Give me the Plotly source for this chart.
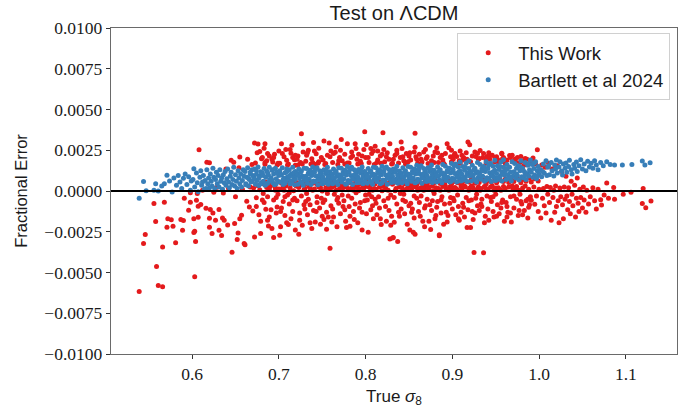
import plotly.graph_objects as go

# ---------------- data ----------------
# fractional error values are stored in units of 1e-3
ERR_UNIT = 1e-3

red_pts = [
    (0.539,-6.16),(0.544,-3.22),(0.546,-2.67),(0.556,-0.77),(0.558,-1.87),(0.559,-4.63),(0.561,-5.79),(0.566,-5.88),
    (0.566,-3.43),(0.568,-0.69),(0.571,-2.22),(0.572,-1.71),(0.576,-1.77),(0.578,-2.16),(0.581,-3.18),(0.587,-1.75),
    (0.589,-2.41),(0.590,-1.81),(0.591,-0.45),(0.596,-1.18),(0.598,-0.69),(0.598,-0.10),(0.602,-1.71),(0.602,-2.55),
    (0.603,-2.47),(0.603,-5.26),(0.604,-3.10),(0.605,-0.57),(0.606,-0.15),(0.607,-0.94),(0.607,-1.61),(0.608,2.53),
    (0.610,-0.83),(0.612,0.05),(0.616,-1.06),(0.617,1.77),(0.620,1.74),(0.620,-1.67),(0.620,-2.22),(0.621,-1.14),
    (0.623,-2.61),(0.624,-1.35),(0.625,-0.08),(0.627,-1.79),(0.628,0.22),(0.631,-1.14),(0.631,-2.41),(0.634,-2.73),
    (0.635,-1.65),(0.636,-0.12),(0.637,-1.80),(0.639,1.35),(0.641,-2.08),(0.642,0.15),(0.645,1.88),(0.646,-3.75),
    (0.648,1.77),(0.649,-2.00),(0.650,-0.35),(0.652,-2.97),(0.653,-2.57),(0.654,1.42),(0.655,2.08),(0.655,-1.70),
    (0.657,-1.49),(0.658,0.10),(0.660,-3.22),(0.661,-3.30),(0.663,-0.63),(0.664,1.95),(0.666,-0.98),(0.667,0.25),
    (0.669,1.62),(0.670,-1.22),(0.672,2.94),(0.672,-2.82),
    (0.671,0.18),(0.673,1.72),(0.674,-0.42),(0.675,2.35),(0.676,2.88),(0.677,-1.45),(0.678,0.08),(0.679,-2.60),
    (0.680,1.98),(0.674,-0.95),(0.678,2.42),(0.676,0.32),(0.679,-1.85),
    (0.681,2.05),(0.682,-0.15),(0.683,2.62),(0.684,1.64),(0.685,-1.12),(0.686,0.22),(0.687,2.30),(0.688,-2.15),
    (0.689,0.10),(0.683,-0.70),(0.686,1.85),(0.689,-1.60),(0.684,2.90),(0.687,-0.35),(0.690,0.28),
    (0.691,0.35),(0.692,-2.30),(0.693,1.78),(0.694,-0.55),(0.695,2.25),(0.696,0.05),(0.697,-1.35),(0.698,1.60),
    (0.699,-0.20),(0.700,2.45),(0.694,-2.85),(0.696,0.20),(0.692,1.95),(0.698,-0.98),(0.700,0.12),
    (0.701,-2.71),(0.702,-2.20),(0.703,2.90),(0.701,1.70),(0.704,0.15),(0.705,-0.65),(0.706,2.10),(0.707,-1.50),
    (0.708,0.30),(0.709,1.88),(0.710,-0.25),(0.703,-1.05),(0.706,0.05),(0.708,2.55),(0.709,-1.95),(0.705,0.25),
    (0.711,1.65),(0.712,-0.80),(0.713,0.18),(0.714,2.32),(0.715,2.80),(0.716,-1.25),(0.717,0.02),(0.718,1.92),
    (0.719,-2.40),(0.720,0.30),(0.712,-0.10),(0.714,-1.70),(0.716,2.05),(0.718,-0.45),(0.719,1.58),
    (0.721,-0.60),(0.722,2.15),(0.723,0.22),(0.724,-1.80),(0.725,1.75),(0.726,3.51),(0.727,-2.10),(0.728,2.90),
    (0.729,0.08),(0.730,-1.10),(0.722,1.60),(0.724,0.35),(0.726,-0.30),(0.728,2.40),(0.730,0.15),(0.723,-2.65),
    (0.731,1.82),(0.732,-0.15),(0.733,-1.45),(0.734,2.50),(0.735,0.28),(0.736,-0.85),(0.737,1.66),(0.738,-2.30),
    (0.739,0.05),(0.740,2.98),(0.732,2.20),(0.734,-0.50),(0.736,0.18),(0.738,1.98),(0.740,-1.20),
    (0.741,0.12),(0.742,-1.90),(0.743,2.28),(0.744,-0.35),(0.745,1.70),(0.746,0.25),(0.747,-1.05),(0.748,-2.04),
    (0.749,2.05),(0.750,0.00),(0.742,1.62),(0.744,-0.70),(0.746,2.62),(0.748,0.20),(0.750,-1.55),
    (0.751,1.90),(0.752,3.06),(0.753,-0.55),(0.754,0.18),(0.755,-1.30),(0.756,2.20),(0.757,0.30),(0.758,2.94),
    (0.759,-3.51),(0.760,-0.90),(0.752,-1.75),(0.754,1.68),(0.756,-0.15),(0.758,0.10),(0.760,2.45),(0.755,-2.35),
    (0.761,0.22),(0.762,1.75),(0.763,-1.60),(0.764,-0.20),(0.765,2.38),(0.766,0.05),(0.767,-2.20),(0.768,1.62),
    (0.769,-0.75),(0.770,2.05),(0.762,-1.10),(0.764,0.30),(0.766,2.70),(0.768,-0.40),(0.770,0.15),
    (0.771,-1.40),(0.772,3.16),(0.773,1.85),(0.774,0.20),(0.775,-0.60),(0.776,2.25),(0.777,-1.85),(0.778,-2.24),
    (0.779,2.90),(0.780,0.08),(0.772,0.35),(0.774,-0.95),(0.776,1.65),(0.778,0.25),(0.780,-0.30),
    (0.781,1.72),(0.782,-2.16),(0.783,0.15),(0.784,-0.45),(0.785,2.15),(0.786,-1.25),(0.787,0.28),(0.788,2.90),
    (0.789,-0.10),(0.790,1.95),(0.782,-1.55),(0.784,2.40),(0.786,0.05),(0.788,-0.80),(0.790,0.22),
    (0.791,-1.95),(0.792,2.25),(0.793,0.12),(0.794,-0.70),(0.795,1.68),(0.796,-1.30),(0.797,0.30),(0.798,2.55),
    (0.799,3.63),(0.800,-0.25),(0.792,0.02),(0.794,1.82),(0.796,-2.40),(0.798,0.18),(0.800,2.05),
    (0.801,2.86),(0.802,-0.55),(0.803,-2.53),(0.804,1.75),(0.805,0.20),(0.806,-1.15),(0.807,2.30),(0.808,0.05),
    (0.809,-1.70),(0.810,1.62),(0.802,0.28),(0.804,-0.20),(0.806,2.60),(0.808,-0.90),(0.810,0.15),
    (0.811,2.74),(0.812,0.10),(0.813,-1.45),(0.814,1.90),(0.815,-0.35),(0.816,0.25),(0.817,2.15),(0.818,-2.05),
    (0.819,0.02),(0.820,3.57),(0.812,-0.75),(0.814,2.45),(0.816,-1.05),(0.818,1.70),(0.820,0.30),
    (0.821,-0.60),(0.822,1.80),(0.823,0.18),(0.824,-1.85),(0.825,2.35),(0.826,0.05),(0.827,-1.20),(0.828,2.90),
    (0.828,-2.94),(0.829,-0.25),(0.830,1.65),(0.822,0.30),(0.824,2.10),(0.826,-0.45),(0.830,-1.55),
    (0.831,-2.88),(0.832,-2.85),(0.833,-1.92),(0.834,2.20),(0.835,0.15),(0.836,-0.80),(0.837,-3.10),(0.838,1.72),
    (0.839,0.25),(0.840,-0.15),(0.832,1.95),(0.834,0.02),(0.836,2.50),(0.838,-1.30),(0.840,2.05),
    (0.841,3.00),(0.842,0.20),(0.843,-0.55),(0.844,1.85),(0.845,-1.40),(0.846,0.08),(0.847,2.30),(0.848,-2.04),
    (0.849,0.28),(0.850,-0.90),(0.842,2.60),(0.844,-0.20),(0.846,1.66),(0.848,0.15),(0.850,2.15),
    (0.851,-2.40),(0.852,1.90),(0.853,0.10),(0.854,-1.10),(0.855,-2.53),(0.856,2.40),(0.857,2.69),(0.857,3.55),
    (0.857,-2.65),(0.858,0.25),(0.859,-0.45),(0.860,1.70),(0.852,-0.75),(0.854,0.30),(0.856,-1.65),(0.858,2.10),
    (0.860,0.05),
    (0.861,-1.25),(0.862,2.25),(0.863,0.18),(0.864,-0.30),(0.865,1.78),(0.866,-1.85),(0.867,0.05),(0.868,-2.20),
    (0.869,2.55),(0.870,0.22),(0.862,-0.70),(0.864,1.95),(0.866,0.28),(0.868,-1.05),(0.870,2.00),
    (0.871,-0.50),(0.872,1.68),(0.873,0.12),(0.874,2.80),(0.875,-2.36),(0.876,-1.20),(0.877,0.30),(0.878,2.15),
    (0.879,-0.15),(0.880,-1.70),(0.872,0.25),(0.874,-0.85),(0.876,1.85),(0.878,0.02),(0.880,2.40),
    (0.881,0.20),(0.882,2.66),(0.883,-0.65),(0.884,1.75),(0.885,-2.75),(0.885,-2.68),(0.886,0.05),(0.887,-1.35),
    (0.888,2.20),(0.889,0.28),(0.890,-2.04),(0.882,-1.00),(0.884,0.15),(0.886,2.05),(0.888,-0.35),(0.890,1.70),
    (0.891,-0.80),(0.892,2.30),(0.893,0.10),(0.894,2.90),(0.895,-1.50),(0.896,2.66),(0.897,0.25),(0.898,-0.40),
    (0.899,1.80),(0.900,-1.10),(0.892,0.30),(0.894,-1.90),(0.896,0.05),(0.898,2.10),(0.900,0.18),
    (0.901,1.95),(0.902,-0.60),(0.903,0.22),(0.904,-1.45),(0.905,2.12),(0.906,0.08),(0.907,-0.95),(0.908,-1.79),
    (0.909,2.45),(0.910,0.30),(0.902,2.20),(0.904,0.15),(0.906,-0.25),(0.908,1.85),(0.910,-1.30),
    (0.911,0.12),(0.912,-0.75),(0.913,2.05),(0.914,-1.60),(0.915,0.25),(0.916,2.35),(0.917,-2.24),(0.918,3.00),
    (0.919,0.05),(0.920,2.84),(0.921,-2.24),(0.912,1.90),(0.914,0.30),(0.916,-0.40),(0.918,-1.15),(0.920,0.18),
    (0.922,-0.55),(0.923,2.15),(0.924,0.20),(0.925,-3.77),(0.926,-1.35),(0.927,2.12),(0.928,0.08),(0.929,-0.90),
    (0.930,1.95),(0.922,0.30),(0.924,-1.75),(0.926,2.40),(0.928,-0.20),(0.930,0.25),
    (0.931,-1.20),(0.932,2.49),(0.933,0.15),(0.934,-0.50),(0.935,2.05),(0.936,-3.79),(0.937,0.28),(0.938,-1.55),
    (0.939,1.90),(0.940,2.12),(0.932,0.05),(0.934,-0.95),(0.936,2.30),(0.938,0.20),(0.940,-0.30),
    (0.941,0.10),(0.942,-1.80),(0.943,1.95),(0.944,0.25),(0.945,-0.65),(0.946,2.20),(0.947,-1.25),(0.948,0.05),
    (0.949,1.80),(0.950,-0.20),(0.942,2.35),(0.944,-0.40),(0.946,0.30),(0.948,-1.60),(0.950,0.18),
    (0.951,2.10),(0.952,-0.85),(0.953,0.20),(0.954,-1.40),(0.955,1.85),(0.956,0.05),(0.957,2.29),(0.957,2.31),
    (0.958,-0.55),(0.959,0.28),(0.960,-1.85),(0.952,1.95),(0.954,0.12),(0.956,-1.05),(0.958,2.00),
    (0.961,0.15),(0.962,-0.70),(0.963,1.90),(0.964,-1.30),(0.965,0.25),(0.966,2.18),(0.967,-0.35),(0.968,-1.90),
    (0.969,1.80),(0.970,0.10),(0.963,-1.60),(0.967,2.05),(0.969,0.30),
    (0.971,-1.05),(0.972,1.95),(0.973,0.20),(0.974,-0.50),(0.975,2.05),(0.976,-1.50),(0.977,0.05),(0.978,1.75),
    (0.979,2.12),(0.980,-0.80),(0.974,0.28),(0.978,-0.20),
    (0.981,0.18),(0.982,1.85),(0.983,-1.20),(0.984,0.30),(0.985,-0.60),(0.986,1.95),(0.987,-1.65),(0.988,0.10),
    (0.989,1.70),(0.990,-0.35),(0.984,2.00),(0.988,-1.00),
    (0.991,-0.57),(0.993,2.02),(0.994,0.25),(0.995,-0.81),(0.996,1.65),(0.998,2.53),(0.999,-1.25),(1.000,0.10),
    (0.992,1.80),(0.997,-0.30),
    (1.002,-1.65),(1.003,1.60),(1.004,-0.45),(1.005,0.15),(1.006,-0.90),(1.007,1.45),(1.008,-1.35),(1.009,0.28),
    (1.010,-0.20),(1.011,1.70),(1.012,-0.70),(1.013,0.22),(1.014,-1.80),(1.015,1.35),(1.016,-0.40),(1.017,0.05),
    (1.018,-1.30),(1.019,0.30),(1.020,-0.95),(1.021,1.55),(1.022,-0.60),(1.023,-1.95),(1.024,0.18),(1.025,-0.35),
    (1.026,1.20),(1.027,-0.85),(1.028,-1.70),(1.029,0.25),(1.030,-0.50),(1.031,0.90),(1.032,-0.30),(1.033,-1.15),
    (1.034,0.20),(1.035,-0.65),(1.036,-1.40),(1.037,0.60),(1.038,-0.20),(1.039,-0.90),(1.041,0.35),(1.042,-1.60),
    (1.043,-0.45),(1.044,0.80),(1.045,-0.75),(1.046,-1.25),(1.047,0.10),(1.048,-0.40),(1.050,-1.05),(1.051,0.25),
    (1.052,-0.55),(1.054,-1.30),(1.055,0.05),(1.057,-0.80),(1.059,-0.35),(1.062,0.20),(1.064,-0.60),(1.066,-1.10),
    (1.068,0.10),(1.071,-0.53),(1.072,-0.86),(1.075,-0.25),(1.078,0.49),(1.080,-0.45),(1.086,0.21),(1.087,-0.51),
    (1.097,-0.20),(1.106,-0.08),(1.119,-0.77),(1.120,0.15),(1.123,-1.02),(1.129,-0.61),
    # dense red just beneath the blue band
    (0.682,0.45),(0.685,0.55),(0.688,0.38),(0.691,0.50),(0.695,0.42),(0.699,0.58),(0.703,0.48),(0.706,0.40),
    (0.710,0.55),(0.713,0.45),(0.716,0.58),(0.720,0.40),(0.722,0.50),(0.726,0.44),(0.729,0.60),(0.731,0.42),
    (0.735,0.55),(0.739,0.48),(0.741,0.58),(0.744,0.40),(0.748,0.52),(0.751,0.45),(0.755,0.60),(0.759,0.38),
    (0.762,0.55),(0.766,0.42),(0.769,0.50),(0.772,0.58),(0.776,0.40),(0.779,0.48),(0.781,0.52),(0.785,0.44),
    (0.789,0.60),(0.792,0.40),(0.796,0.55),(0.799,0.46),(0.802,0.58),(0.806,0.42),(0.809,0.50),(0.811,0.45),
    (0.815,0.60),(0.819,0.40),(0.822,0.52),(0.826,0.46),(0.829,0.58),(0.831,0.42),(0.835,0.55),(0.839,0.48),
    (0.841,0.60),(0.845,0.44),(0.849,0.52),(0.852,0.48),(0.856,0.62),(0.859,0.40),(0.862,0.55),(0.866,0.45),
    (0.869,0.60),(0.871,0.42),(0.875,0.58),(0.879,0.50),(0.882,0.62),(0.886,0.46),(0.889,0.55),(0.891,0.48),
    (0.895,0.65),(0.899,0.42),(0.902,0.58),(0.906,0.50),(0.909,0.68),(0.911,0.45),(0.915,0.62),(0.919,0.55),
    (0.922,0.70),(0.926,0.48),(0.929,0.60),(0.931,0.52),(0.935,0.72),(0.939,0.45),(0.941,0.65),(0.945,0.55),
    (0.949,0.75),(0.951,0.50),(0.955,0.68),(0.959,0.58),(0.961,0.72),(0.965,0.52),(0.969,0.65),(0.971,0.58),
    (0.975,0.78),(0.979,0.50),(0.981,0.70),(0.985,0.60),(0.989,0.80),(0.991,0.55),(0.995,0.75),(0.999,0.62),
    # further scatter in the crowded middle of the cloud
    (0.681,-0.55),(0.684,1.75),(0.687,-1.80),(0.689,2.15),(0.691,-1.15),(0.694,2.05),(0.697,-0.40),(0.699,1.70),
    (0.702,-1.25),(0.704,2.30),(0.707,-0.35),(0.710,1.60),(0.711,-2.05),(0.713,2.55),(0.716,-0.55),(0.719,2.20),
    (0.721,1.95),(0.724,-1.35),(0.727,1.65),(0.729,-0.85),(0.731,-0.65),(0.733,2.35),(0.736,-1.95),(0.739,1.75),
    (0.741,2.45),(0.743,-1.25),(0.746,1.80),(0.749,-0.45),(0.751,-0.70),(0.753,1.62),(0.757,-1.60),(0.759,2.10),
    (0.761,-1.90),(0.763,2.30),(0.767,-0.55),(0.769,1.85),(0.771,2.50),(0.773,-0.25),(0.776,-1.15),(0.779,1.72),
    (0.781,-0.95),(0.783,2.05),(0.787,-1.75),(0.789,2.60),(0.791,1.65),(0.793,-1.05),(0.796,2.15),(0.799,-0.60),
    (0.801,-1.40),(0.803,2.05),(0.807,-0.35),(0.809,2.45),(0.811,-0.50),(0.813,1.75),(0.817,-1.70),(0.819,2.25),
    (0.821,2.55),(0.823,-0.95),(0.827,1.95),(0.829,-2.10),(0.831,1.70),(0.833,-0.40),(0.836,2.30),(0.839,-1.55),
    (0.841,-1.10),(0.843,2.10),(0.846,-0.65),(0.849,1.80),(0.851,2.35),(0.853,-1.30),(0.856,-0.30),(0.859,1.95),
    (0.861,1.65),(0.863,-1.55),(0.867,2.40),(0.869,-0.90),(0.871,2.10),(0.873,-1.85),(0.877,-0.60),(0.879,1.75),
    (0.881,-1.50),(0.883,2.35),(0.887,-0.55),(0.889,1.90),(0.891,1.62),(0.893,-1.30),(0.897,-0.75),(0.899,2.50),
    (0.901,-0.45),(0.903,2.30),(0.907,-1.70),(0.909,1.70),(0.911,2.20),(0.913,-1.00),(0.917,1.95),(0.919,-0.60),
    (0.921,1.80),(0.923,-1.25),(0.927,-0.45),(0.929,2.30),(0.931,2.00),(0.933,-0.80),(0.937,-1.95),(0.939,1.70),
    (0.941,-1.10),(0.943,2.15),(0.947,-0.35),(0.949,2.05),(0.951,-1.55),(0.953,1.80),(0.957,-0.70),(0.959,2.05),
    (0.961,1.70),(0.963,-0.95),(0.967,-1.35),(0.969,2.20),(0.971,-0.30),(0.973,1.80),(0.977,-1.20),(0.979,-0.65),
    (0.981,-1.45),(0.983,1.60),(0.987,-0.50),(0.989,-0.85),
]

blue_pts = [
    (0.539,-0.45),(0.544,0.59),(0.547,0.02),(0.556,0.04),(0.558,0.45),(0.561,0.00),(0.565,0.30),(0.568,0.45),
    (0.571,0.96),(0.574,0.62),(0.577,-0.06),(0.579,0.80),(0.582,0.35),(0.584,0.95),(0.586,0.55),(0.588,0.15),
    (0.590,0.78),(0.592,1.05),(0.594,0.40),(0.596,0.88),(0.598,0.05),(0.599,0.62),
    (0.601,0.70),(0.602,1.37),(0.603,0.25),(0.605,1.10),(0.606,0.50),(0.607,-0.05),(0.609,0.85),(0.610,1.25),
    (0.611,0.35),(0.613,0.95),(0.614,0.10),(0.615,0.65),(0.617,1.30),(0.618,0.45),(0.619,0.80),(0.620,0.20),
    (0.612,0.55),(0.616,0.15),
    (0.621,1.05),(0.622,0.60),(0.623,0.30),(0.624,1.40),(0.625,0.85),(0.626,0.15),(0.627,0.70),(0.628,1.15),
    (0.629,0.45),(0.630,0.95),(0.631,0.25),(0.632,1.30),(0.633,0.60),(0.634,0.80),(0.635,0.10),(0.636,1.00),
    (0.637,0.50),(0.638,1.20),(0.639,0.35),(0.640,0.75),
    (0.641,1.35),(0.642,0.55),(0.643,0.20),(0.644,0.90),(0.645,1.15),(0.646,0.40),(0.647,0.70),(0.648,1.45),
    (0.649,0.30),(0.650,1.00),(0.651,0.60),(0.652,0.15),(0.653,1.25),(0.654,0.80),(0.655,0.45),(0.656,1.05),
    (0.657,0.25),(0.658,0.65),(0.659,1.30),(0.660,0.90),
    (0.661,1.20),(0.662,0.45),(0.663,0.85),(0.664,1.42),(0.665,0.30),(0.666,0.70),(0.667,1.05),(0.668,0.55),
    (0.669,1.30),(0.670,0.95),(0.662,0.38),(0.665,0.78),(0.667,1.15),(0.669,0.60),
    (0.671,0.88),(0.672,1.35),(0.673,0.42),(0.674,1.02),(0.675,0.65),(0.676,1.48),(0.677,0.33),(0.678,0.92),
    (0.679,1.18),(0.680,0.52),(0.672,0.72),(0.674,1.25),(0.677,0.80),(0.679,0.45),
    (0.681,1.10),(0.682,0.60),(0.683,1.38),(0.684,0.35),(0.685,0.85),(0.686,1.22),(0.687,0.48),(0.688,0.98),
    (0.689,1.45),(0.690,0.70),(0.682,0.95),(0.685,0.40),(0.687,1.12),(0.689,0.62),
    (0.691,0.82),(0.692,1.28),(0.693,0.50),(0.694,1.05),(0.695,0.38),(0.696,1.40),(0.697,0.75),(0.698,1.15),
    (0.699,0.58),(0.700,0.95),(0.692,0.68),(0.694,1.32),(0.697,0.45),(0.699,1.08),
    (0.701,1.25),(0.702,0.55),(0.703,0.98),(0.704,1.42),(0.705,0.40),(0.706,0.78),(0.707,1.12),(0.708,0.62),
    (0.709,1.35),(0.710,0.88),(0.702,1.05),(0.705,0.70),(0.707,0.48),(0.709,1.18),
    (0.711,0.72),(0.712,1.30),(0.713,0.45),(0.714,1.02),(0.715,0.60),(0.716,1.45),(0.717,0.85),(0.718,0.38),
    (0.719,1.20),(0.720,0.95),(0.712,0.90),(0.714,0.52),(0.717,1.12),(0.719,0.70),
    (0.721,1.08),(0.722,0.42),(0.723,1.35),(0.724,0.80),(0.725,0.55),(0.726,1.22),(0.727,0.92),(0.728,0.35),
    (0.729,1.40),(0.730,0.68),(0.722,0.98),(0.725,1.15),(0.727,0.50),(0.729,0.82),
    (0.731,0.90),(0.732,1.38),(0.733,0.48),(0.734,1.10),(0.735,0.72),(0.736,1.28),(0.737,0.40),(0.738,0.95),
    (0.739,1.48),(0.740,0.62),(0.732,0.75),(0.735,1.02),(0.737,1.18),(0.739,0.55),
    (0.741,1.15),(0.742,0.58),(0.743,0.92),(0.744,1.42),(0.745,0.38),(0.746,0.80),(0.747,1.25),(0.748,0.65),
    (0.749,1.05),(0.750,0.45),(0.742,1.32),(0.745,0.70),(0.747,0.98),(0.749,1.20),
    (0.751,0.85),(0.752,1.30),(0.753,0.50),(0.754,1.08),(0.755,0.68),(0.756,1.45),(0.757,0.42),(0.758,0.95),
    (0.759,1.18),(0.760,0.72),(0.752,0.62),(0.755,1.22),(0.757,0.88),(0.759,0.55),
    (0.761,1.02),(0.762,0.45),(0.763,1.35),(0.764,0.78),(0.765,0.58),(0.766,1.20),(0.767,0.92),(0.768,0.40),
    (0.769,1.42),(0.770,0.70),(0.762,0.88),(0.765,1.12),(0.767,0.52),(0.769,1.00),
    (0.771,0.95),(0.772,1.40),(0.773,0.55),(0.774,1.15),(0.775,0.75),(0.776,1.28),(0.777,0.42),(0.778,0.98),
    (0.779,1.50),(0.780,0.65),(0.772,0.80),(0.775,1.05),(0.777,1.22),(0.779,0.48),
    (0.781,1.18),(0.782,0.62),(0.783,0.95),(0.784,1.45),(0.785,0.40),(0.786,0.85),(0.787,1.30),(0.788,0.70),
    (0.789,1.08),(0.790,0.50),(0.782,1.35),(0.785,0.75),(0.787,1.00),(0.789,1.22),
    (0.791,0.88),(0.792,1.32),(0.793,0.52),(0.794,1.12),(0.795,0.70),(0.796,1.48),(0.797,0.45),(0.798,0.98),
    (0.799,1.20),(0.800,0.78),(0.792,0.65),(0.795,1.25),(0.797,0.92),(0.799,0.58),
    (0.801,1.05),(0.802,0.48),(0.803,1.38),(0.804,0.82),(0.805,0.60),(0.806,1.22),(0.807,0.95),(0.808,0.42),
    (0.809,1.45),(0.810,0.72),(0.802,0.90),(0.805,1.15),(0.807,0.55),(0.809,1.02),
    (0.811,0.98),(0.812,1.42),(0.813,0.58),(0.814,1.18),(0.815,0.78),(0.816,1.30),(0.817,0.45),(0.818,1.00),
    (0.819,1.52),(0.820,0.68),(0.812,0.82),(0.815,1.08),(0.817,1.25),(0.819,0.50),
    (0.821,1.20),(0.822,0.65),(0.823,0.98),(0.824,1.48),(0.825,0.42),(0.826,0.88),(0.827,1.32),(0.828,0.72),
    (0.829,1.10),(0.830,0.52),(0.822,1.38),(0.825,0.78),(0.827,1.02),(0.829,1.25),
    (0.831,0.90),(0.832,1.35),(0.833,0.55),(0.834,1.15),(0.835,0.72),(0.836,1.52),(0.837,0.48),(0.838,1.00),
    (0.839,1.22),(0.840,0.80),(0.832,0.68),(0.835,1.28),(0.837,0.95),(0.839,0.60),
    (0.841,1.08),(0.842,0.50),(0.843,1.42),(0.844,0.85),(0.845,0.62),(0.846,1.25),(0.847,0.98),(0.848,0.45),
    (0.849,1.50),(0.850,0.75),(0.842,0.92),(0.845,1.18),(0.847,0.58),(0.849,1.05),
    (0.851,1.00),(0.852,1.45),(0.853,0.60),(0.854,1.20),(0.855,0.80),(0.856,1.35),(0.857,0.50),(0.858,1.05),
    (0.859,1.58),(0.860,0.72),(0.852,0.85),(0.855,1.12),(0.857,1.30),(0.859,0.55),
    (0.861,1.25),(0.862,0.68),(0.863,1.02),(0.864,1.55),(0.865,0.48),(0.866,0.92),(0.867,1.38),(0.868,0.75),
    (0.869,1.15),(0.870,0.58),(0.862,1.42),(0.865,0.82),(0.867,1.08),(0.869,1.30),
    (0.871,0.95),(0.872,1.42),(0.873,0.62),(0.874,1.20),(0.875,0.78),(0.876,1.60),(0.877,0.52),(0.878,1.05),
    (0.879,1.28),(0.880,0.85),(0.872,0.72),(0.875,1.35),(0.877,1.00),(0.879,0.65),
    (0.881,1.12),(0.882,0.55),(0.883,1.48),(0.884,0.90),(0.885,0.68),(0.886,1.30),(0.887,1.05),(0.888,0.50),
    (0.889,1.62),(0.890,0.80),(0.882,0.98),(0.885,1.22),(0.887,0.62),(0.889,1.10),
    (0.891,1.05),(0.892,1.52),(0.893,0.65),(0.894,1.25),(0.895,0.85),(0.896,1.40),(0.897,0.55),(0.898,1.10),
    (0.899,1.68),(0.900,0.78),(0.892,0.90),(0.895,1.18),(0.897,1.38),(0.899,0.60),
    (0.901,1.30),(0.902,0.72),(0.903,1.08),(0.904,1.65),(0.905,0.55),(0.906,0.98),(0.907,1.45),(0.908,0.80),
    (0.909,1.22),(0.910,0.62),(0.902,1.55),(0.905,0.88),(0.907,1.15),(0.909,1.78),
    (0.911,1.02),(0.912,1.50),(0.913,0.68),(0.914,1.28),(0.915,0.85),(0.916,1.72),(0.917,0.58),(0.918,1.12),
    (0.919,1.38),(0.920,0.92),(0.912,0.78),(0.915,1.45),(0.917,1.05),(0.919,1.85),
    (0.921,1.20),(0.922,0.62),(0.923,1.58),(0.924,0.95),(0.925,0.72),(0.926,1.40),(0.927,1.10),(0.928,0.55),
    (0.929,1.75),(0.930,0.85),(0.922,1.05),(0.925,1.30),(0.927,0.68),(0.929,1.18),
    (0.931,1.12),(0.932,1.62),(0.933,0.72),(0.934,1.35),(0.935,0.90),(0.936,1.50),(0.937,0.60),(0.938,1.20),
    (0.939,1.80),(0.940,0.82),(0.932,0.98),(0.935,1.25),(0.937,1.45),(0.939,0.68),
    (0.941,1.38),(0.942,0.75),(0.943,1.12),(0.944,1.70),(0.945,0.58),(0.946,1.02),(0.947,1.52),(0.948,0.85),
    (0.949,1.28),(0.950,0.65),(0.942,1.60),(0.945,0.92),(0.947,1.18),(0.949,1.88),
    (0.951,1.08),(0.952,1.55),(0.953,0.72),(0.954,1.32),(0.955,0.90),(0.956,1.78),(0.957,0.62),(0.958,1.18),
    (0.959,1.45),(0.960,0.98),(0.952,0.82),(0.955,1.50),(0.957,1.10),(0.959,1.92),
    (0.961,1.25),(0.962,0.70),(0.963,1.62),(0.964,1.00),(0.965,0.78),(0.966,1.45),(0.967,1.15),(0.968,0.62),
    (0.969,1.80),(0.970,0.90),(0.963,1.35),(0.967,0.85),
    (0.971,1.18),(0.972,1.68),(0.973,0.80),(0.974,1.40),(0.975,0.95),(0.976,1.55),(0.977,0.68),(0.978,1.25),
    (0.979,1.85),(0.980,0.88),(0.974,1.05),(0.978,1.50),
    (0.981,1.40),(0.982,0.82),(0.983,1.20),(0.984,1.75),(0.985,0.70),(0.986,1.08),(0.987,1.58),(0.988,0.92),
    (0.989,1.30),(0.990,1.90),(0.984,1.00),(0.988,1.65),
    (0.991,1.15),(0.992,1.62),(0.993,0.85),(0.994,1.38),(0.995,0.98),(0.996,1.80),(0.997,0.75),(0.998,1.25),
    (0.999,1.50),(1.000,1.02),(0.994,1.70),(0.998,0.90),
    (1.002,1.30),(1.003,0.88),(1.005,1.65),(1.006,1.10),(1.008,1.85),(1.009,0.95),(1.010,1.45),(1.004,1.20),
    (1.011,1.55),(1.012,1.00),(1.014,1.75),(1.015,1.25),(1.017,0.92),(1.018,1.60),(1.019,1.35),(1.020,1.90),
    (1.021,1.10),(1.023,1.48),(1.024,1.80),(1.026,1.22),(1.027,0.98),(1.028,1.65),(1.030,1.40),
    (1.031,1.72),(1.032,1.15),(1.034,1.50),(1.035,1.88),(1.037,1.30),(1.038,1.05),(1.040,1.62),
    (1.041,1.40),(1.043,1.78),(1.044,1.20),(1.046,1.55),(1.048,1.92),(1.050,1.35),
    (1.052,1.65),(1.054,1.25),(1.056,1.82),(1.058,1.48),(1.060,1.70),
    (1.062,1.40),(1.064,1.85),(1.066,1.60),(1.068,1.30),(1.071,1.75),(1.074,1.55),(1.078,1.80),(1.082,1.62),
    (1.087,1.59),(1.096,1.59),(1.107,1.62),(1.119,1.84),(1.122,1.59),(1.128,1.74),
]

series_names = ["This Work", "Bartlett et al 2024"]
series_colors = ["#e41a1c", "#377eb8"]
x_tick_vals = [0.6, 0.7, 0.8, 0.9, 1.0, 1.1]
y_tick_vals = [-0.01, -0.0075, -0.005, -0.0025, 0.0, 0.0025, 0.005, 0.0075, 0.01]
x_range = [0.5065, 1.159]
y_range = [-0.01, 0.01]

SERIF = "Liberation Serif"
SANS = "Liberation Sans"

fig = go.Figure()
for pts, name, color in zip([red_pts, blue_pts], series_names, series_colors):
    fig.add_trace(go.Scatter(
        x=[p[0] for p in pts],
        y=[p[1] * ERR_UNIT for p in pts],
        mode="markers",
        name=name,
        marker=dict(color=color, size=5, line=dict(width=0)),
    ))

# horizontal reference line at zero
fig.add_hline(y=0, line=dict(color="black", width=1.8))

axis_common = dict(
    showline=True, mirror=True, linecolor="#6a6a6a", linewidth=1.4,
    ticks="outside", ticklen=4, tickwidth=1.1, tickcolor="#333",
    showgrid=False, zeroline=False,
    tickfont=dict(family=SERIF, size=17.5, color="#1a1a1a"),
)

fig.update_xaxes(
    range=x_range, tickvals=x_tick_vals, tickformat=".1f",
    title=dict(text="True <i>σ</i><sub>8</sub>",
               font=dict(family=SANS, size=17, color="#1a1a1a"), standoff=6),
    **axis_common,
)
fig.update_yaxes(
    range=y_range, tickvals=y_tick_vals, tickformat=".4f",
    title=dict(text="Fractional Error", font=dict(family=SANS, size=16.5, color="#1a1a1a"), standoff=12),
    **axis_common,
)

fig.update_layout(
    width=698, height=412,
    margin=dict(l=111, r=21, t=28, b=58, autoexpand=False),
    paper_bgcolor="white", plot_bgcolor="white",
    title=dict(text="Test on ΛCDM",
               x=0.5, xref="paper", xanchor="center",
               y=1 - 13 / 412, yref="container", yanchor="middle",
               font=dict(family=SANS, size=20, color="#1a1a1a")),
    legend=dict(
        x=0.988, y=0.984, xanchor="right", yanchor="top",
        bgcolor="white", bordercolor="#d0d0d0", borderwidth=1,
        font=dict(family=SANS, size=18.5, color="#1a1a1a"),
        itemwidth=50,
    ),
    showlegend=True,
)

fig.write_html("out.html", config={"displayModeBar": False})
